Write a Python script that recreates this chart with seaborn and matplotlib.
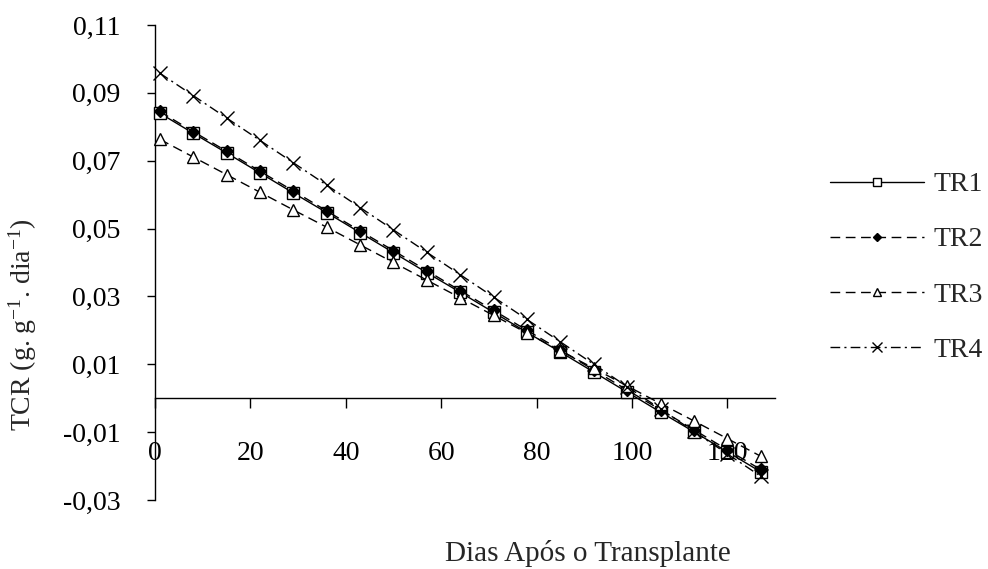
import matplotlib
matplotlib.use("Agg")
import matplotlib.pyplot as plt
import seaborn as sns
import pandas as pd

# Days after transplanting at which TCR was evaluated
dias = [1, 8, 15, 22, 29, 36, 43, 50, 57, 64, 71, 78, 85, 92, 99, 106, 113, 120, 127]

# Relative growth rate (TCR) for each treatment
tr1 = [0.0840, 0.0781, 0.0723, 0.0664, 0.0605, 0.0547, 0.0488, 0.0429, 0.0370, 0.0312,
       0.0253, 0.0194, 0.0136, 0.0077, 0.0018, -0.0041, -0.0099, -0.0158, -0.0217]
tr2 = [0.0845, 0.0786, 0.0728, 0.0669, 0.0611, 0.0552, 0.0493, 0.0435, 0.0376, 0.0317,
       0.0259, 0.0200, 0.0142, 0.0083, 0.0024, -0.0034, -0.0093, -0.0152, -0.0210]
tr3 = [0.0763, 0.0711, 0.0659, 0.0607, 0.0555, 0.0504, 0.0452, 0.0400, 0.0348, 0.0296,
       0.0244, 0.0192, 0.0140, 0.0088, 0.0036, -0.0016, -0.0067, -0.0119, -0.0171]
tr4 = [0.0958, 0.0892, 0.0826, 0.0760, 0.0694, 0.0628, 0.0562, 0.0496, 0.0430, 0.0364,
       0.0298, 0.0232, 0.0166, 0.0100, 0.0034, -0.0032, -0.0098, -0.0164, -0.0230]

series_names = ["TR1", "TR2", "TR3", "TR4"]

x_ticks = [0, 20, 40, 60, 80, 100, 120]
y_ticks = [-0.03, -0.01, 0.01, 0.03, 0.05, 0.07, 0.09, 0.11]
y_tick_labels = ["-0,03", "-0,01", "0,01", "0,03", "0,05", "0,07", "0,09", "0,11"]

sns.set_style("white")
plt.rcParams["font.family"] = ["Liberation Serif", "DejaVu Serif"]
plt.rcParams["mathtext.fontset"] = "custom"
plt.rcParams["mathtext.rm"] = "Liberation Serif"
plt.rcParams["mathtext.it"] = "Liberation Serif:italic"
plt.rcParams["mathtext.default"] = "rm"

FS = 20

fig = plt.figure(figsize=(9.88, 5.69), dpi=100)
ax = fig.add_axes([0.1569, 0.1213, 0.6275, 0.8348])

styles = {
    "TR1": dict(marker="s", markersize=9, markerfacecolor="white", markeredgecolor="black",
                markeredgewidth=1.0, linestyle="-"),
    "TR2": dict(marker="D", markersize=6.5, markerfacecolor="black", markeredgecolor="black",
                markeredgewidth=1.0, dashes=(7, 4)),
    "TR3": dict(marker="^", markersize=9, markerfacecolor="white", markeredgecolor="black",
                markeredgewidth=1.0, dashes=(7, 4)),
    "TR4": dict(marker="x", markersize=10, markeredgecolor="black",
                markeredgewidth=1.0, dashes=(7, 3, 1.5, 3)),
}

for name, vals in zip(series_names, [tr1, tr2, tr3, tr4]):
    df = pd.DataFrame({"dias": dias, "tcr": vals})
    sns.lineplot(data=df, x="dias", y="tcr", ax=ax, color="black", linewidth=1.0,
                 label=name, zorder=3, clip_on=False, **styles[name])

ax.set_xlim(0, 130)
ax.set_ylim(-0.03, 0.11)

ax.spines["top"].set_visible(False)
ax.spines["right"].set_visible(False)
ax.spines["bottom"].set_position(("data", 0))
for sp in ("left", "bottom"):
    ax.spines[sp].set_color("black")
    ax.spines[sp].set_linewidth(1.0)

ax.set_xticks(x_ticks)
ax.set_xticklabels([str(v) for v in x_ticks])
ax.set_yticks(y_ticks)
ax.set_yticklabels(y_tick_labels)
ax.tick_params(axis="x", direction="out", length=7, width=1, pad=24, labelsize=FS,
               bottom=True, colors="black")
ax.tick_params(axis="y", direction="out", length=6, width=1, pad=19, labelsize=FS,
               left=True, colors="black")

ax.set_xlabel("Dias Após o Transplante", fontsize=FS + 1)
ax.xaxis.set_label_coords(0.698, -0.084)
ax.set_ylabel("TCR (g. g$^{-1}$. dia$^{-1}$)", fontsize=FS)
ax.yaxis.set_label_coords(-0.187, 0.37)

fs_px = FS * 100 / 72
leg = ax.legend(loc="upper left", bbox_to_anchor=(0.840, 0.698),
                bbox_transform=fig.transFigure, frameon=False, fontsize=FS,
                borderpad=0, borderaxespad=0,
                handlelength=94 / fs_px, handletextpad=10 / fs_px, labelspacing=1.07,
                markerscale=0.7)

fig.savefig("out.png", dpi=100)
